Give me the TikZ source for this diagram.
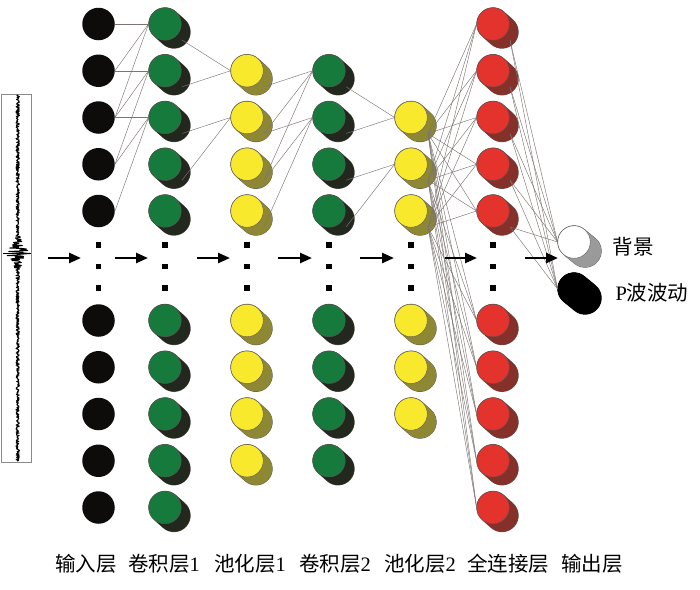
\documentclass[tikz,border=0pt]{standalone}
\usepackage{fontspec}
\setmainfont{Liberation Serif}
\newfontfamily\cjk{Noto Sans CJK SC}
\usetikzlibrary{arrows.meta,calc}

\definecolor{grn}{HTML}{167A3C}
\definecolor{grnS}{HTML}{23281F}
\definecolor{yel}{HTML}{F8E92C}
\definecolor{yelS}{HTML}{8E8834}
\definecolor{redF}{HTML}{E4322C}
\definecolor{redS}{HTML}{86302A}
\definecolor{inblk}{HTML}{0E0B0B}
\definecolor{edgecol}{HTML}{5E5654}
\definecolor{linkcol}{HTML}{7C7472}
\definecolor{gryS}{HTML}{9A9A9A}
\definecolor{boxcol}{HTML}{8A8A8A}

\tikzset{
  neuron/.style={circle, minimum size=32.5pt, inner sep=0pt, draw=edgecol, line width=0.4pt},
  link/.style={draw=linkcol, line width=0.45pt},
  flowarrow/.style={line width=2.5pt, -{Triangle[length=12pt,width=10pt]}},
  dotsq/.style={rectangle, fill=black, minimum size=5.5pt, inner sep=0pt},
  lab/.style={font=\fontsize{20.5}{24}\selectfont, inner sep=0pt},
}

% name, x, y, front colour, shadow colour, shadow offset, edge colour
\newcommand{\mkneuronE}[7]{%
  \draw[line cap=round, line width=33.3pt, #7] (#2,#3) -- ++(#6);
  \draw[line cap=round, line width=32.5pt, #5] (#2,#3) -- ++(#6);
  \node[neuron, fill=#4, draw=#7] (#1) at (#2,#3) {};
  \coordinate (#1o) at ($(#1)+(17,16)$);
}
\newcommand{\mkneuron}[6]{\mkneuronE{#1}{#2}{#3}{#4}{#5}{#6}{edgecol}}

\begin{document}
\begin{tikzpicture}[x=1pt, y=-1pt]
\useasboundingbox (0,0) rectangle (700,589);

% ---- seismogram ----
\draw[boxcol, line width=0.5pt] (1,94) rectangle (31,462);
\pgfmathsetseed{7}
\draw[black, line width=1pt, line join=round]
  plot[domain=95:461, samples=733, variable=\t]
  ({17.7+(1.7+11*pow(max(0,1-abs(\t-253)/20),1.5))*rand}, \t);
\draw[black, line width=0.8pt] (3,253) -- (31,253);

% input layer
\foreach \yy/\k in {24/1,70.75/2,117.5/3,164.25/4,211/5,320.5/6,367.25/7,414/8,460.75/9,507.5/10}
  \node[circle, minimum size=32.5pt, inner sep=0pt, fill=inblk] (i\k) at (98.5,\yy) {};

% conv1
\foreach \yy/\k in {24/1,70.75/2,117.5/3,164.25/4,211/5,320.5/6,367.25/7,414/8,460.75/9,507.5/10}
  {\mkneuron{c\k}{165}{\yy}{grn}{grnS}{9,8}}

% pool1
\foreach \yy/\k in {70.75/1,117.5/2,164.25/3,211/4,320.5/5,367.25/6,414/7,460.75/8}
  {\mkneuron{p\k}{247}{\yy}{yel}{yelS}{9,8}}

% conv2
\foreach \yy/\k in {70.75/1,117.5/2,164.25/3,211/4,320.5/5,367.25/6,414/7,460.75/8}
  {\mkneuron{d\k}{329}{\yy}{grn}{grnS}{9,8}}

% pool2
\foreach \yy/\k in {117.5/1,164.25/2,211/3,320.5/4,367.25/5,414/6}
  {\mkneuron{q\k}{411}{\yy}{yel}{yelS}{9,8}}

% fully connected
\foreach \yy/\k in {24/1,70.75/2,117.5/3,164.25/4,211/5,320.5/6,367.25/7,414/8,460.75/9,507.5/10}
  {\mkneuron{f\k}{493}{\yy}{redF}{redS}{9,8}}

% output
\mkneuron{o1}{574}{242}{white}{gryS}{11,9}
\mkneuronE{o2}{574}{289}{black}{black}{11,9}{black}

% ---- dots ----
\foreach \xx/\n in {98.5/i,165/c,247/p,329/d,411/q,493/f}
  \foreach \yy/\m in {245/1,266.5/2,288/3}
    \node[dotsq] (dot\n\m) at (\xx,\yy) {};

% ---- connections ----
% input -> conv1 (kernel 3)
\foreach \j in {1,2,3}{
  \foreach \s in {0,1,2}{
    \pgfmathtruncatemacro{\src}{\j+\s}
    \draw[link] (i\src.east) -- (c\j.west);
  }
}
% conv1 -> pool1
\draw[link] (c1o) -- (p1.west);
\draw[link] (c2o) -- (p1.west);
\draw[link] (c3o) -- (p2.west);
\draw[link] (c4o) -- (p2.west);
% pool1 -> conv2
\foreach \j in {1,2}{
  \foreach \s in {0,1,2}{
    \pgfmathtruncatemacro{\src}{\j+\s}
    \draw[link] (p\src o) -- (d\j.west);
  }
}
% conv2 -> pool2
\draw[link] (d1o) -- (q1.west);
\draw[link] (d2o) -- (q1.west);
\draw[link] (d3o) -- (q2.west);
\draw[link] (d4o) -- (q2.west);
% pool2 -> fc
\foreach \a in {1,2,3}
  \foreach \b in {1,...,10}
    \draw[link] (q\a o) -- (f\b.west);
% fc -> output
\foreach \a in {1,...,5}{
  \draw[link] (f\a o) -- (o1.west);
  \draw[link] (f\a o) -- (o2.west);
}

% ---- flow arrows ----
\foreach \xa/\xb/\k in {48/81/1,115/148/2,197/230/3,278/312/4,360/394/5,445/477/6,525/558/7}{
  \coordinate (as\k) at (\xa,258);
  \coordinate (ae\k) at (\xb,258);
  \draw[flowarrow] (as\k) -- (ae\k);
}

% ---- labels ----
\node[lab] (lbg) at (633,247) {\cjk 背景};
\node[lab] (lp) at (652,293) {P{\cjk 波波动}};

\node[lab] (t1) at (86,564) {\cjk 输入层};
\node[lab] (t2) at (164,564) {{\cjk 卷积层}1};
\node[lab] (t3) at (250,564) {{\cjk 池化层}1};
\node[lab] (t4) at (335,564) {{\cjk 卷积层}2};
\node[lab] (t5) at (420,564) {{\cjk 池化层}2};
\node[lab] (t6) at (508,564) {\cjk 全连接层};
\node[lab] (t7) at (592,564) {\cjk 输出层};
\end{tikzpicture}
\end{document}
